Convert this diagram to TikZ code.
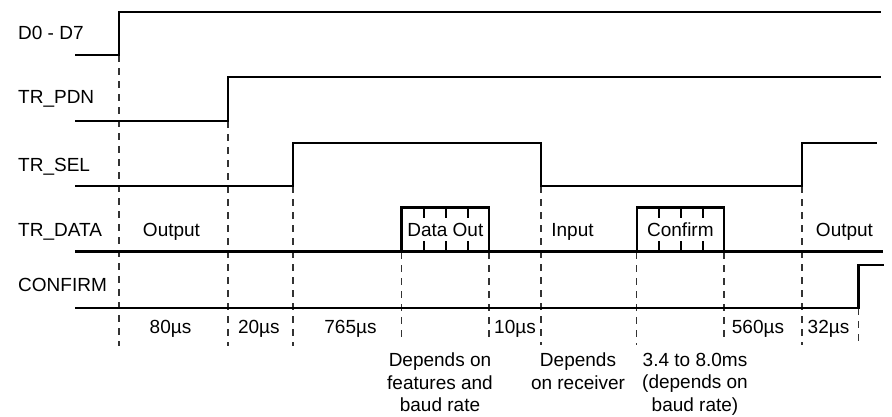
\documentclass[tikz,border=0pt]{standalone}
\usepackage{fontspec}
\setmainfont{Liberation Sans}
\begin{document}
\begin{tikzpicture}[x=1pt,y=-1pt,
  sig/.style={line width=2.2pt, line join=miter, line cap=rect},
  tick/.style={line width=2.2pt},
  guide/.style={dash pattern=on 7pt off 6pt, line width=1.1pt, black!80},
  lbl/.style={font=\fontsize{19}{22.5}\selectfont, inner sep=0pt},
  note/.style={lbl, align=center, anchor=north}]
\useasboundingbox (0,0) rectangle (892,416);

% dashed timing guides
\foreach \gx/\gy/\gz in {119/55/346, 228/121/346, 293/186/346, 401.5/252/343, 489/252/343,
  541/186/345, 636.7/252/345, 724/252/343, 802/186/345, 858.5/308/345}
  \draw[guide] (\gx,\gy) -- (\gx,\gz);

% signal names
\node[lbl, anchor=base west] (nD) at (18,39.5) {D0 - D7};
\node[lbl, anchor=base west] (nP) at (18,103) {TR\_PDN};
\node[lbl, anchor=base west] (nS) at (18,171) {TR\_SEL};
\node[lbl, anchor=base west] (nT) at (18,236) {TR\_DATA};
\node[lbl, anchor=base west] (nC) at (18,291.5) {CONFIRM};

% waveforms
\draw[sig] (76,55) -- (119,55) -- (119,12) -- (880,12);
\draw[sig] (76,121) -- (228,121) -- (228,77) -- (880,77);
\draw[sig] (76,186) -- (293,186) -- (293,143) -- (541,143) -- (541,186) -- (802,186) -- (802,143) -- (876,143);
\draw[sig] (76,251.5) -- (882,251.5);
\draw[sig] (401.5,251.5) -- (401.5,207.5) -- (489,207.5) -- (489,251.5);
\draw[sig] (636.7,251.5) -- (636.7,207.5) -- (724,207.5) -- (724,251.5);
\foreach \tx in {424,445.7,467.7,659,680.7,702.7}{
  \draw[tick] (\tx,207.5) -- (\tx,217.5);
  \draw[tick] (\tx,241) -- (\tx,251.5);
}
\draw[sig] (76,308) -- (858.5,308) -- (858.5,265) -- (882.5,265);

% TR_DATA labels
\node[lbl, anchor=base] (oL) at (171.5,236) {Output};
\node[lbl, anchor=base] (dO) at (445.3,236) {Data Out};
\node[lbl, anchor=base] (iN) at (572.5,236) {Input};
\node[lbl, anchor=base] (cF) at (680.4,236) {Confirm};
\node[lbl, anchor=base] (oR) at (844.5,236) {Output};

% timings
\node[lbl, anchor=base] (t1) at (170.5,333) {80µs};
\node[lbl, anchor=base] (t2) at (258.8,333) {20µs};
\node[lbl, anchor=base] (t3) at (350.5,333) {765µs};
\node[lbl, anchor=base] (t4) at (515,333) {10µs};
\node[lbl, anchor=base] (t5) at (758,333) {560µs};
\node[lbl, anchor=base] (t6) at (828.5,333) {32µs};

% notes
\node[note] (m1) at (440,353) {Depends on\\features and\\baud rate};
\node[note] (m2) at (578,353) {Depends\\on receiver};
\node[note] (m3) at (695,353) {3.4 to 8.0ms\\(depends on\\baud rate)};
\end{tikzpicture}
\end{document}
